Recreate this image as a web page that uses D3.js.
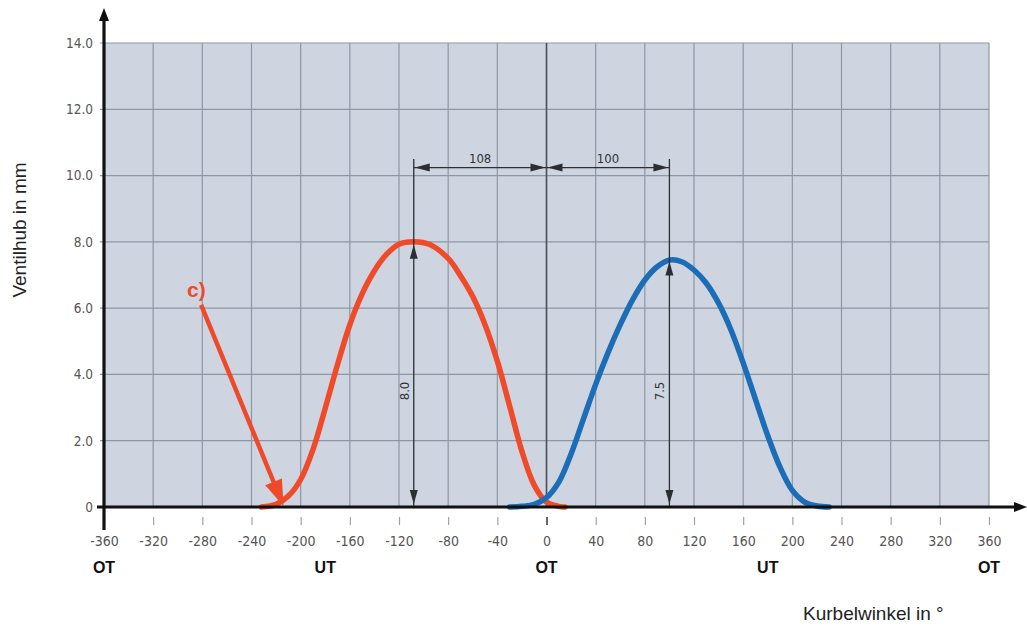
<!DOCTYPE html>
<html><head><meta charset="utf-8">
<script src="https://cdn.jsdelivr.net/npm/d3@7"></script>
<style>
body{margin:0;background:#fff;}
svg{display:block;font-family:"Liberation Sans",Arial,sans-serif;}
.narrow{font-family:"Liberation Sans Narrow","Arial Narrow","DejaVu Sans Condensed",sans-serif;}
</style></head>
<body><svg id="c" width="1027" height="626"></svg>
<script>
// ---- data ----
const xTicks = [-360,-320,-280,-240,-200,-160,-120,-80,-40,0,40,80,120,160,200,240,280,320,360];
const yTicks = [0,2,4,6,8,10,12,14];
const yTickLabels = ["0","2.0","4.0","6.0","8.0","10.0","12.0","14.0"];
const deadCenters = [-360,-180,0,180,360];
const deadCenterLabels = ["OT","UT","OT","UT","OT"];

const redAngle = [-232,-220,-210,-200,-190,-180,-170,-160,-150,-140,-130,-120,-108,-95,-80,-70,-60,-50,-40,-30,-20,-10,0,10,15];
const redLift  = [0,0.08,0.33,0.83,1.73,2.98,4.3,5.5,6.43,7.13,7.63,7.93,8.0,7.92,7.5,6.98,6.35,5.5,4.4,3.05,1.68,0.66,0.15,0.02,0];
const blueAngle = [-30,-20,-10,0,10,20,30,40,50,60,70,80,90,100,110,120,130,140,150,160,170,180,190,200,210,220,230];
const blueLift  = [0,0.02,0.08,0.28,0.75,1.6,2.65,3.7,4.65,5.5,6.25,6.85,7.25,7.45,7.4,7.15,6.75,6.15,5.35,4.35,3.25,2.15,1.2,0.5,0.15,0.03,0];

const peakAngles = [-108,100];
const peakLifts = [8.0,7.5];
const peakLabels = ["8.0","7.5"];
const spanLabels = ["108","100"];
const dimLevel = 10.24;
const extTop = 10.5;
const calloutText = "c)";
const calloutFrom = [-281,6.1];
const calloutTo = [-214,0.03];

// ---- layout ----
const svg = d3.select("#c");
const x = d3.scaleLinear().domain([-360,360]).range([104,989]);
const y = d3.scaleLinear().domain([0,14]).range([507,43]);

svg.append("rect").attr("x",x(-360)).attr("y",y(14))
  .attr("width",x(360)-x(-360)).attr("height",y(0)-y(14)).attr("fill","#ced5e1");

const g = svg.append("g");
g.selectAll(".vg").data(xTicks.filter(d=>d!==-360&&d!==0)).enter().append("line")
  .attr("x1",d=>x(d)).attr("x2",d=>x(d)).attr("y1",y(14)).attr("y2",y(0))
  .attr("stroke","#8b98a3").attr("stroke-width",1.2);
g.selectAll(".hg").data(yTicks.filter(d=>d!==0)).enter().append("line")
  .attr("x1",x(-360)-4).attr("x2",x(360)).attr("y1",d=>y(d)).attr("y2",d=>y(d))
  .attr("stroke","#8b98a3").attr("stroke-width",1.2);
g.append("line").attr("x1",x(0)).attr("x2",x(0)).attr("y1",y(14)).attr("y2",y(0))
  .attr("stroke","#4a4f55").attr("stroke-width",1.6);

const xa = svg.append("g").attr("transform",`translate(0,${y(0)+10})`)
  .call(d3.axisBottom(x).tickValues(xTicks).tickSize(8).tickPadding(11).tickFormat(d=>String(d)));
xa.select(".domain").remove();
xa.selectAll(".tick line").attr("stroke",d=>d===0?"#555":"#9aa3ab").attr("stroke-width",d=>d===0?1.8:1.2);
xa.selectAll(".tick text").attr("class","narrow").attr("font-size",14).attr("fill","#555").attr("font-family",null);

const ya = svg.append("g").attr("transform",`translate(${x(-360)},0)`)
  .call(d3.axisLeft(y).tickValues(yTicks).tickSize(0).tickPadding(11).tickFormat((d,i)=>yTickLabels[i]));
ya.select(".domain").remove();
ya.selectAll(".tick text").attr("class","narrow").attr("font-size",13.5).attr("fill","#555").attr("font-family",null);

svg.selectAll(".dc").data(deadCenters).enter().append("text")
  .attr("x",d=>x(d)).attr("y",573).attr("text-anchor","middle")
  .attr("font-weight","bold").attr("font-size",16).attr("fill","#111")
  .text((d,i)=>deadCenterLabels[i]);

const line = d3.line().x(d=>x(d[0])).y(d=>Math.min(y(d[1]),y(0))).curve(d3.curveCatmullRom.alpha(0.5));
svg.append("path").datum(redAngle.map((a,i)=>[a,redLift[i]])).attr("d",line)
  .attr("fill","none").attr("stroke","#ef4a2a").attr("stroke-width",5.5).attr("stroke-linecap","round");
svg.append("path").datum(blueAngle.map((a,i)=>[a,blueLift[i]])).attr("d",line)
  .attr("fill","none").attr("stroke","#1a6db6").attr("stroke-width",5.5).attr("stroke-linecap","round");

svg.append("line").attr("x1",97).attr("x2",1018).attr("y1",y(0)).attr("y2",y(0))
  .attr("stroke","#111").attr("stroke-width",3.2);
svg.append("path").attr("d",`M1027,${y(0)} L1014,${y(0)-5} L1014,${y(0)+5} Z`).attr("fill","#111");
svg.append("line").attr("x1",x(-360)).attr("x2",x(-360)).attr("y1",530).attr("y2",18)
  .attr("stroke","#111").attr("stroke-width",3.2);
svg.append("path").attr("d",`M${x(-360)},8 L${x(-360)-5},21 L${x(-360)+5},21 Z`).attr("fill","#111");

function head(px,py,ang,len,w,fill){
  const bx=px-Math.cos(ang)*len, by=py-Math.sin(ang)*len;
  const nx=-Math.sin(ang)*w/2, ny=Math.cos(ang)*w/2;
  svg.append("path").attr("d",`M${px},${py} L${bx+nx},${by+ny} L${bx-nx},${by-ny} Z`).attr("fill",fill);
}

const dimCol="#2b2f33";
peakAngles.forEach((a,i)=>{
  svg.append("line").attr("x1",x(a)).attr("x2",x(a)).attr("y1",y(extTop)).attr("y2",y(0)-1)
    .attr("stroke",dimCol).attr("stroke-width",1.3);
  head(x(a),y(peakLifts[i])+3,-Math.PI/2,14,8,dimCol);
  head(x(a),y(0)-3,Math.PI/2,14,8,dimCol);
  svg.append("text").attr("class","narrow").attr("font-size",13).attr("fill","#333")
    .attr("transform",`translate(${x(a)-5},${y(3.5)}) rotate(-90)`).attr("text-anchor","middle")
    .text(peakLabels[i]);
});
const spans=[[peakAngles[0],0],[0,peakAngles[1]]];
spans.forEach((s,i)=>{
  svg.append("line").attr("x1",x(s[0])).attr("x2",x(s[1])).attr("y1",y(dimLevel)).attr("y2",y(dimLevel))
    .attr("stroke",dimCol).attr("stroke-width",1.3);
  head(x(s[0])+1,y(dimLevel),Math.PI,15,8,dimCol);
  head(x(s[1])-1,y(dimLevel),0,15,8,dimCol);
  svg.append("text").attr("class","narrow").attr("font-size",13).attr("fill","#333")
    .attr("x",(x(s[0])+x(s[1]))/2).attr("y",y(dimLevel)-5).attr("text-anchor","middle")
    .text(spanLabels[i]);
});

const cx1=x(calloutFrom[0]), cy1=y(calloutFrom[1]), cx2=x(calloutTo[0]), cy2=y(calloutTo[1]);
const ang=Math.atan2(cy2-cy1,cx2-cx1);
svg.append("line").attr("x1",cx1).attr("y1",cy1)
  .attr("x2",cx2-Math.cos(ang)*20).attr("y2",cy2-Math.sin(ang)*20)
  .attr("stroke","#ee4a2a").attr("stroke-width",4.5);
head(cx2,cy2,ang,26,18,"#ee4a2a");
svg.append("text").attr("x",cx1-14).attr("y",cy1-8).attr("font-weight","bold").attr("font-size",21)
  .attr("fill","#ee4a2a").text(calloutText);

svg.append("text").attr("transform","translate(26,230) rotate(-90)").attr("text-anchor","middle")
  .attr("font-size",19).attr("fill","#222").text("Ventilhub in mm");
svg.append("text").attr("x",803).attr("y",620).attr("font-size",19).attr("fill","#222").text("Kurbelwinkel in °");
</script></body></html>
